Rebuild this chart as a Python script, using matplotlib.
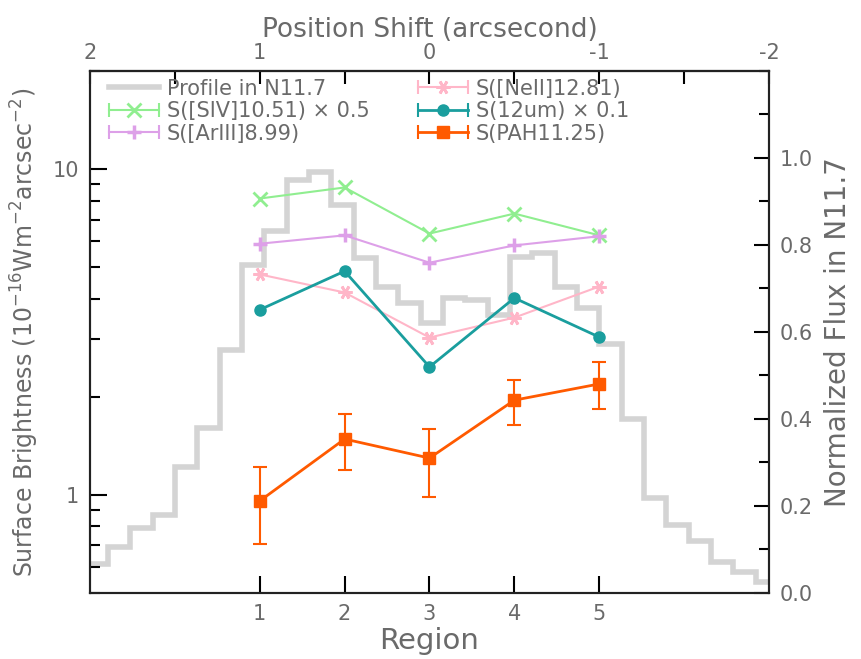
import matplotlib
matplotlib.use('Agg')
import matplotlib.pyplot as plt
import numpy as np
from matplotlib.lines import Line2D
from matplotlib.legend_handler import HandlerLine2D, HandlerTuple

# region numbers and measured surface brightness
regions = [1, 2, 3, 4, 5]
siv = [8.12, 8.78, 6.34, 7.30, 6.26]       # S([SIV]10.51) x 0.5
ariii = [5.90, 6.26, 5.16, 5.83, 6.22]     # S([ArIII]8.99)
neii = [4.75, 4.18, 3.04, 3.50, 4.36]      # S([NeII]12.81)
s12um = [3.70, 4.86, 2.47, 4.02, 3.05]     # S(12um) x 0.1
pah = [0.958, 1.484, 1.297, 1.953, 2.19]   # S(PAH11.25)
pah_err_lo = [0.252, 0.290, 0.309, 0.313, 0.35]
pah_err_hi = [0.258, 0.288, 0.296, 0.297, 0.36]

# N11.7 normalized profile (step histogram, in region units)
profile_edges = np.arange(-4, 28) * 5 / 19
profile = [0.067, 0.106, 0.149, 0.179, 0.290, 0.379, 0.559, 0.753, 0.832,
           0.949, 0.968, 0.892, 0.770, 0.704, 0.666, 0.621, 0.679, 0.674,
           0.640, 0.772, 0.781, 0.704, 0.654, 0.572, 0.400, 0.218, 0.156,
           0.120, 0.071, 0.048, 0.025]

text_color = '#6a6a6a'
plt.rcParams['font.family'] = 'DejaVu Sans'
plt.rcParams['text.color'] = text_color
plt.rcParams['axes.labelcolor'] = text_color
plt.rcParams['xtick.labelcolor'] = text_color
plt.rcParams['ytick.labelcolor'] = text_color
plt.rcParams['mathtext.default'] = 'regular'

fig = plt.figure(figsize=(8.62, 6.59), dpi=100)
ax = fig.add_axes([0.1044, 0.1002, 0.7877, 0.7921])
ax2 = ax.twinx()

# profile on the right axis, behind everything else
ax2.stairs(profile, profile_edges, color='#d4d4d4', linewidth=4, baseline=None)
ax2.set_ylim(0, 1.2)
ax.set_zorder(ax2.get_zorder() + 1)
ax.patch.set_visible(False)

c_siv = '#90ee90'
c_ar = '#dda0e8'
c_ne = '#ffb6c8'
c_12 = '#1a9e9e'
c_pah = '#ff5a00'

ax.plot(regions, siv, color=c_siv, lw=1.5, marker='x', ms=10, mew=2)
ax.plot(regions, ariii, color=c_ar, lw=1.5, marker='+', ms=10, mew=2.5)
ax.plot(regions, neii, color=c_ne, lw=1.5, marker=(6, 2, 90), ms=10, mew=2)
ax.plot(regions, s12um, color=c_12, lw=2, marker='o', ms=8)
ax.errorbar(regions, pah, yerr=[pah_err_lo, pah_err_hi], color=c_pah, lw=2,
            marker='s', ms=8, capsize=5, capthick=1.5, elinewidth=1.5)

ax.set_yscale('log')
ax.set_ylim(0.5, 20)
ax.set_xlim(-1, 7)
ax.set_xticks(regions)
ax.set_yticks([1, 10])
ax.set_yticklabels(['1', '10'])
ax.minorticks_on()
ax.xaxis.set_minor_locator(matplotlib.ticker.NullLocator())
ax.yaxis.set_minor_formatter(matplotlib.ticker.NullFormatter())

ax.tick_params(axis='both', which='major', direction='in', length=12, width=1.5,
               labelsize=15, pad=8)
ax.tick_params(axis='y', which='minor', direction='in', length=7, width=1.5)
ax.tick_params(axis='y', right=False)

ax2.set_yticks([0.0, 0.2, 0.4, 0.6, 0.8, 1.0])
ax2.set_yticklabels(['0.0', '0.2', '0.4', '0.6', '0.8', '1.0'])
ax2.yaxis.set_minor_locator(matplotlib.ticker.MultipleLocator(0.1))
ax2.tick_params(axis='y', which='major', direction='in', length=11, width=1.5,
                labelsize=15, pad=8)
ax2.tick_params(axis='y', which='minor', direction='in', length=7, width=1.5)

for a in (ax, ax2):
    for s in a.spines.values():
        s.set_linewidth(1.5)
        s.set_color('#222222')

ax.set_xlabel('Region', fontsize=21, labelpad=2)
ax.set_ylabel('Surface Brightness (10$^{-16}$Wm$^{-2}$arcsec$^{-2}$)', fontsize=17, labelpad=8)
ax2.set_ylabel('Normalized Flux in N11.7', fontsize=20, labelpad=8)

# top axis: position shift in arcsec
top = ax.secondary_xaxis('top', functions=(lambda r: (3 - r) / 2, lambda s: 3 - 2 * s))
top.set_xticks([2, 1, 0, -1, -2])
top.set_xticklabels(['2', '1', '0', '-1', '-2'])
top.xaxis.set_minor_locator(matplotlib.ticker.FixedLocator([1.5, 0.5, -0.5, -1.5]))
top.tick_params(axis='x', which='both', direction='in', length=9, width=1.5,
                labelsize=15, pad=6)
top.spines['top'].set_linewidth(1.5)
top.set_xlabel('Position Shift (arcsecond)', fontsize=19, labelpad=4)

# legend with caps at both ends of each handle
def entry(color, marker, ms, mew, lw):
    caps = Line2D([], [], color=color, marker='|', ms=10, mew=1.5, lw=lw)
    main = Line2D([], [], color=color, marker=marker, ms=ms, mew=mew, lw=0)
    return caps, main

hmap = {tuple: HandlerTuple(ndivide=1, pad=0)}
handles = [Line2D([], [], color='#d4d4d4', lw=4)]
specs = [(c_siv, 'x', 10, 2, 1.5), (c_ar, '+', 10, 2.5, 1.5),
         (c_ne, (6, 2, 90), 10, 2, 1.5), (c_12, 'o', 8, 1, 2), (c_pah, 's', 8, 1, 2)]
for sp in specs:
    caps, main = entry(*sp)
    hmap[caps] = HandlerLine2D(numpoints=2, marker_pad=0.0)
    hmap[main] = HandlerLine2D(numpoints=1)
    handles.append((caps, main))
labels = ['Profile in N11.7', 'S([SIV]10.51) × 0.5', 'S([ArIII]8.99)',
          'S([NeII]12.81)', 'S(12um) × 0.1', 'S(PAH11.25)']
ax.legend(handles, labels, handler_map=hmap, ncol=2, loc='upper left',
          frameon=False, fontsize=15, handlelength=2.4, handletextpad=0.4,
          labelspacing=0.12, columnspacing=2.3, borderaxespad=0.1,
          bbox_to_anchor=(0.012, 1.005))

fig.savefig('out.png', dpi=100)
